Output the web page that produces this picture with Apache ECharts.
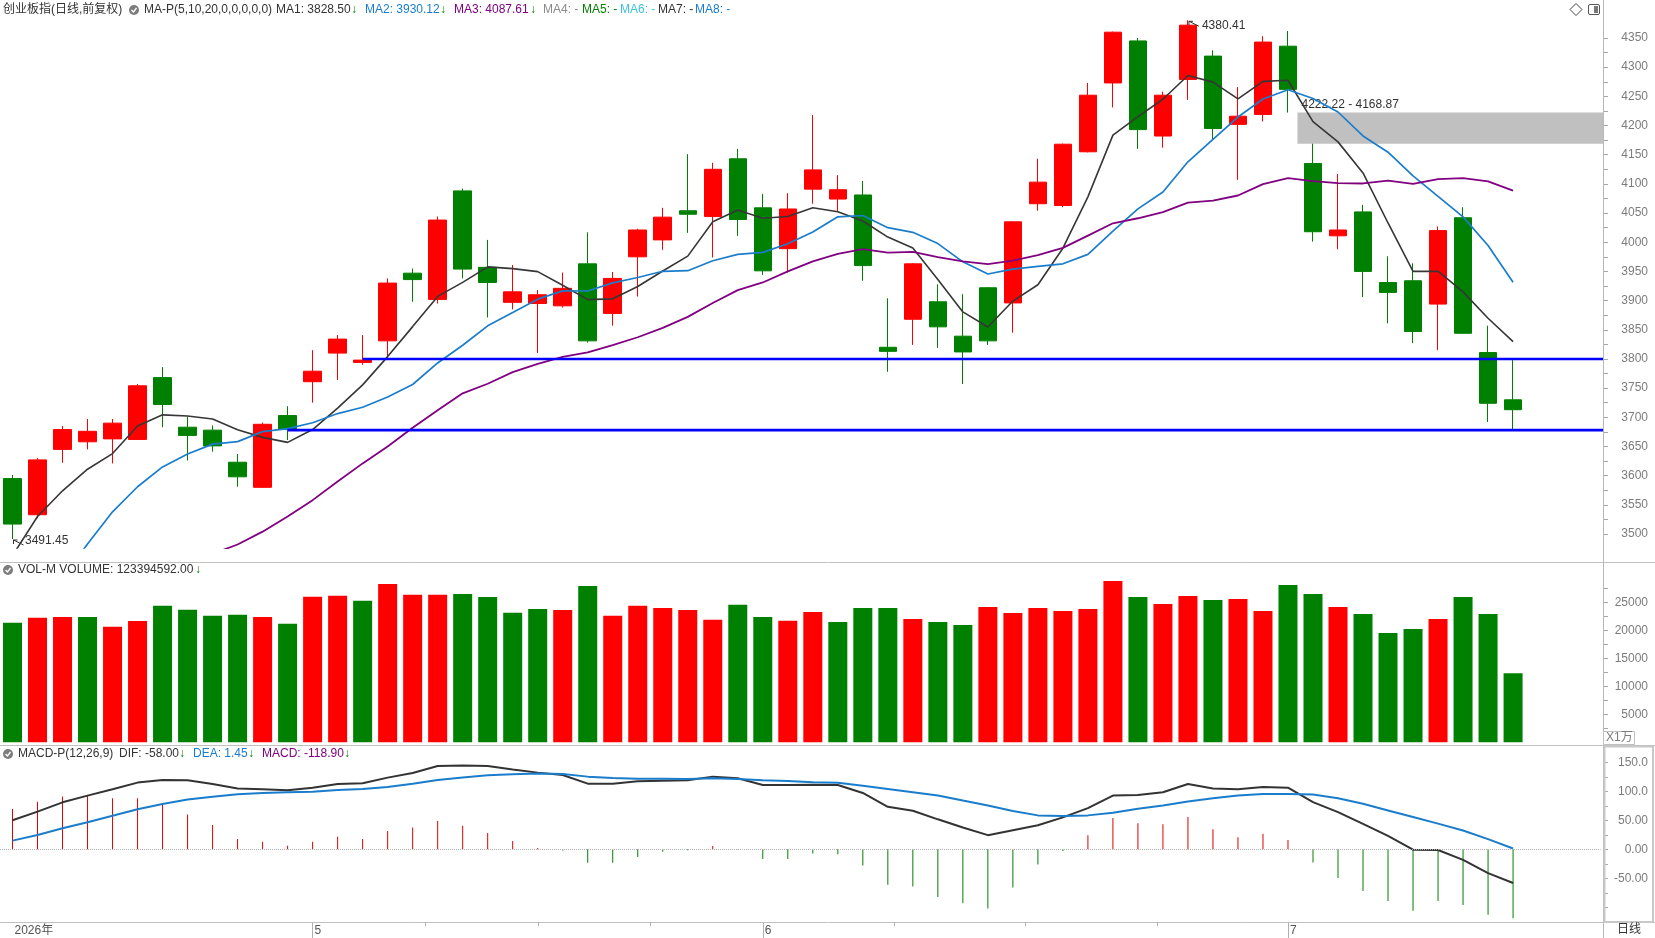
<!DOCTYPE html>
<html><head><meta charset="utf-8">
<script src="https://cdn.jsdelivr.net/npm/echarts@6/dist/echarts.min.js"></script>
<style>html,body{margin:0;padding:0;background:#fff;overflow:hidden}#c{width:1655px;height:938px}</style>
</head><body><div id="c"></div>
<script>
// ---------------- data ----------------
const dates = [
 '2026-04-15','2026-04-16','2026-04-17','2026-04-20','2026-04-21','2026-04-22','2026-04-23','2026-04-24','2026-04-27','2026-04-28','2026-04-29','2026-04-30',
 '2026-05-06','2026-05-07','2026-05-08','2026-05-11','2026-05-12','2026-05-13','2026-05-14','2026-05-15','2026-05-18','2026-05-19','2026-05-20','2026-05-21','2026-05-22','2026-05-25','2026-05-26','2026-05-27','2026-05-28','2026-05-29',
 '2026-06-01','2026-06-02','2026-06-03','2026-06-04','2026-06-05','2026-06-08','2026-06-09','2026-06-10','2026-06-11','2026-06-12','2026-06-15','2026-06-16','2026-06-17','2026-06-18','2026-06-22','2026-06-23','2026-06-24','2026-06-25','2026-06-26','2026-06-29','2026-06-30',
 '2026-07-01','2026-07-02','2026-07-03','2026-07-06','2026-07-07','2026-07-08','2026-07-09','2026-07-10','2026-07-13','2026-07-14'];
const opens = [3595,3533,3645,3658,3663,3662,3768,3683,3678,3623,3580,3703,3761,3810,3794,3831,3947,3902,4088,3957,3897,3895,3891,3963,3878,3975,4004,4054,4044,4143,
 4059,3989,4091,4074,4081,3820,3868,3898,3839,3922,3896,4066,4063,4155,4273,4345,4182,4279,4319,4202,4219,4336,4135,4011,4052,3931,3934,3894,4042,3811,3730];
const closes = [3517,3627,3679,3676,3690,3754,3722,3669,3651,3598,3688,3679,3779,3834,3798,3930,3936,4038,3954,3931,3915,3910,3921,3831,3938,4021,4043,4048,4125,4039,
 3951,4057,4124,4090,3960,3813,3963,3855,3812,3831,4035,4103,4168,4252,4360,4193,4252,4372,4195,4216,4343,4262,4018,4021,3950,3914,3847,4020,3844,3724,3713];
const lows = [3491.45,3527,3622,3645,3621,3661,3683,3626,3641,3581,3579,3661,3725,3764,3790,3804,3898,3895,3938,3871,3885,3810,3888,3828,3857,3907,3987,4016,3974,4011,
 3944,3948,4066,4052,3934,3778,3824,3819,3757,3824,3845,4054,4060,4154,4231,4160,4162,4244,4176,4107,4207,4222.22,4001,3988,3906,3861,3827,3815,3843,3692,3678];
const highs = [3601,3630,3685,3697,3697,3757,3786,3701,3686,3637,3691,3719,3815,3841,3841,3938,3955,4044,4092,4004,3961,3918,3948,4017,3949,4023,4059,4151,4136,4160,
 4083,4084,4218,4115,4105,3904,3964,3928,3911,3923,4036,4143,4169,4273,4361,4350,4258,4380.41,4329,4266,4353,4362,4168.87,4117,4064,3976,3964,4027,4060,3857,3798];
// volume in units of 1万
const volumes = [21360,22250,22380,22380,20650,21660,24400,23690,22610,22790,22380,21190,26010,26190,25290,28270,26360,26360,26490,25950,23150,23810,23630,27920,22610,24400,23990,23630,21900,24580,
 22380,21720,23290,21490,23990,23990,22020,21490,20950,24170,23090,23990,23450,23810,28810,25950,24700,26130,25420,25590,23450,28090,26490,24170,22910,19520,20240,22020,25950,22910,12339.46];
const dif = [50,65,81,92.5,103.5,115,119.6,119,112.6,105,103.4,101.7,106.3,112.6,113.8,123.6,131.6,143.7,144.3,143.7,137.4,132.2,128.2,113.2,113.2,117.2,118.4,119,125.3,122.4,
 111,111,111.4,110.8,97.2,73.3,66.5,51.7,37.5,24.4,33,41.5,55,71,92.6,93.8,98.3,112.5,105,103.4,107.4,106.3,81.3,64.2,43.7,23.3,-0.6,-1.1,-18.2,-41,-58];
const dea = [15,24.7,36.2,46.5,58,69,78,86,90.8,94.8,97.1,98.3,99.4,102.3,104,107.5,113.2,119.5,124,127.6,129.3,130.5,129.9,125.3,123,121.8,121.8,121.3,122.4,121.3,
 119,117.8,115.8,114.8,109.7,104,98.3,92.6,84,75.6,65.9,58.5,57.4,58.5,63,70,75.6,82.4,88,92.6,95.5,95.5,94.3,88,78.4,67,55.7,44.3,32.4,17.6,1.45];
const macd = [69.5,82,91,92.5,88,88,78.7,60,42,17.8,13.2,6.3,13.2,21.8,17.8,31.6,37.4,48.8,40.8,28.2,14.4,2.3,-2,-23,-23,-13.2,-4,-1.7,5.7,0.5,
 -16.7,-16.7,-7,-8.5,-27.8,-61,-64,-82,-93,-102,-66,-26,-3,24.4,54,45,43.2,55.7,34.7,21,26.7,16,-22.7,-49.4,-72,-89.2,-106,-89.2,-96,-113,-118.9];
// moving-average values of the first days (their history lies before the visible window)
const ma5Lead = [3463,3530,3574,3611];
const ma10Lead = [3315,3370,3425,3483,3538,3581,3615,3637,3654];
const ma20Lead = [3345,3360,3375,3390,3405,3420,3435,3452,3466,3482,3504,3530,3558,3590,3621,3650,3682,3712,3741];
// drawn horizontal lines: [start index, price]
const supportLines = [[14,3800],[11,3678]];
// tick labels
const priceTicks = [3500,3550,3600,3650,3700,3750,3800,3850,3900,3950,4000,4050,4100,4150,4200,4250,4300,4350];
const volTicks = [5000,10000,15000,20000,25000];
const macdTicks = [150,100,50,0,-50];
const macdTickLabels = ['150.0','100.0','50.00','0.00','-50.00'];

// ---------------- build ----------------
const RED = '#ff0000', GREEN = '#008000';
const FONT = 'Liberation Sans, Noto Sans CJK SC, sans-serif';
const cats = dates.concat(['', '', '']);
const candleData = opens.map((o, i) => [o, closes[i], lows[i], highs[i]]);
function calcMA(n, lead) {
  return closes.map((c, i) => {
    if (i < lead.length) return lead[i];
    let s = 0; for (let k = i - n + 1; k <= i; k++) s += closes[k];
    return +(s / n).toFixed(2);
  });
}
const ma5 = calcMA(5, ma5Lead), ma10 = calcMA(10, ma10Lead), ma20 = calcMA(20, ma20Lead);
const volData = volumes.map((v, i) => {
  const up = i === 0 ? closes[0] >= opens[0] : closes[i] >= closes[i - 1];
  return { value: v, itemStyle: { color: up ? RED : GREEN } };
});
const macdData = macd.map(v => ({ value: v, itemStyle: { color: v >= 0 ? '#e00000' : GREEN } }));
const monthStarts = dates.map((d, i) => (i === 0 || d.slice(5, 7) !== dates[i - 1].slice(5, 7)) ? i : -1).filter(i => i >= 0);
function halfSteps(arr, step) { const out = []; const lo = Math.min(...arr), hi = Math.max(...arr); for (let v = lo; v <= hi + 1e-9; v += step) out.push(+v.toFixed(4)); return out; }
let hiIdx = 0, loIdx = 0;
highs.forEach((h, i) => { if (h > highs[hiIdx]) hiIdx = i; });
lows.forEach((l, i) => { if (l < lows[loIdx]) loIdx = i; });
const gapIdx = 51;
const gapData = [[gapIdx, lows[gapIdx], highs[gapIdx + 1]]];

const GL = -2, GW = 1602.6, AXOFF = 2.4;
const grids = [
  { left: GL, width: GW, top: 10, height: 538 },
  { left: GL, width: GW, top: 562, height: 180.3 },
  { left: GL, width: GW, top: 746, height: 176 }
];
const labelStyle = { color: '#7c7c7c', fontSize: 12, fontFamily: FONT, align: 'right', margin: 45 };
const tickStyle = { show: true, length: 5, lineStyle: { color: '#a8a8a8', width: 1 } };
const plain = (v) => String(+v);

const option = {
  animation: false,
  backgroundColor: '#ffffff',
  grid: grids,
  xAxis: [
    { type: 'category', gridIndex: 0, data: cats, show: false },
    { type: 'category', gridIndex: 1, data: cats, show: false },
    { type: 'category', gridIndex: 2, data: cats, position: 'bottom',
      axisLine: { show: false, onZero: false },
      axisTick: { show: true, alignWithLabel: true, length: 16, interval: (i) => i > 0 && monthStarts.includes(i), lineStyle: { color: '#b0b0b0' } },
      axisLabel: { show: true, interval: (i) => monthStarts.includes(i), align: 'left', margin: 3, padding: [0, 0, 0, 2],
        color: '#555', fontSize: 12, fontFamily: FONT,
        formatter: (v, i) => i === 0 ? v.slice(0, 4) + '年' : String(+v.slice(5, 7)) },
      splitLine: { show: false } }
  ],
  yAxis: [
    { type: 'value', gridIndex: 0, position: 'right', offset: AXOFF, min: 3476, max: 4398, splitLine: { show: false },
      axisLine: { show: false }, axisTick: Object.assign({ customValues: halfSteps(priceTicks, 25) }, tickStyle),
      axisLabel: Object.assign({ customValues: priceTicks, formatter: plain }, labelStyle) },
    { type: 'value', gridIndex: 1, position: 'right', offset: AXOFF, min: 0, max: 32200, splitLine: { show: false },
      axisLine: { show: false }, axisTick: Object.assign({ customValues: halfSteps([2500, 27500], 2500) }, tickStyle),
      axisLabel: Object.assign({ customValues: volTicks, formatter: plain }, labelStyle) },
    { type: 'value', gridIndex: 2, position: 'right', offset: AXOFF, min: -125.3, max: 178.1, splitLine: { show: false },
      axisLine: { show: false }, axisTick: Object.assign({ customValues: halfSteps([-100, 150], 25) }, tickStyle),
      axisLabel: Object.assign({ customValues: macdTicks, formatter: (v) => { const k = macdTicks.indexOf(+v); return k >= 0 ? macdTickLabels[k] : ''; } }, labelStyle) }
  ],
  series: [
    { type: 'custom', name: 'gap', xAxisIndex: 0, yAxisIndex: 0, z: 1, clip: false, data: gapData,
      renderItem: (params, api) => {
        const top = api.value(1), bot = api.value(2);
        const p1 = api.coord([api.value(0), top]), p2 = api.coord([api.value(0), bot]);
        const x0 = p1[0] + 9.5, x1 = params.coordSys.x + params.coordSys.width + AXOFF;
        return { type: 'group', children: [
          { type: 'rect', shape: { x: x0, y: p1[1], width: x1 - x0, height: p2[1] - p1[1] }, style: { fill: '#c0c0c0' } },
          { type: 'text', style: { text: top.toFixed(2) + ' - ' + bot.toFixed(2), x: x0 + 4, y: p1[1] - 8, verticalAlign: 'middle', fill: '#333', font: '12px ' + FONT } }
        ] };
      } },
    { type: 'candlestick', name: 'K', xAxisIndex: 0, yAxisIndex: 0, data: candleData, barWidth: 18, z: 2,
      itemStyle: { color: RED, color0: GREEN, borderColor: RED, borderColor0: GREEN, borderWidth: 1 } },
    { type: 'line', name: 'MA1', xAxisIndex: 0, yAxisIndex: 0, data: ma5, showSymbol: false, z: 3, lineStyle: { color: '#363636', width: 1.6 } },
    { type: 'line', name: 'MA2', xAxisIndex: 0, yAxisIndex: 0, data: ma10, showSymbol: false, z: 3, lineStyle: { color: '#1a7dcc', width: 1.7 } },
    { type: 'line', name: 'MA3', xAxisIndex: 0, yAxisIndex: 0, data: ma20, showSymbol: false, z: 3, lineStyle: { color: '#800080', width: 1.8 } },
    { type: 'custom', name: 'lines', xAxisIndex: 0, yAxisIndex: 0, z: 4, clip: false, data: supportLines,
      renderItem: (params, api) => {
        const p = api.coord([api.value(0), api.value(1)]);
        const x1 = params.coordSys.x + params.coordSys.width + AXOFF;
        return { type: 'line', shape: { x1: p[0], y1: p[1], x2: x1, y2: p[1] }, style: { stroke: '#0000ff', lineWidth: 2.6 } };
      } },
    { type: 'custom', name: 'extremes', xAxisIndex: 0, yAxisIndex: 0, z: 5, clip: false,
      data: [[hiIdx, highs[hiIdx], 1], [loIdx, lows[loIdx], 0]],
      renderItem: (params, api) => {
        const p = api.coord([api.value(0), api.value(1)]);
        const isHi = api.value(2) === 1;
        const x = p[0], y = p[1];
        const ty = isHi ? y + 5.5 : y + 1.7, tx = isHi ? x + 14 : x + 12.5;
        return { type: 'group', children: [
          { type: 'polyline', shape: { points: [[x + 5, y + 1], [x + 1, y + 1], [x + 1, y + 5]] }, style: { stroke: '#333', lineWidth: 1, fill: null } },
          { type: 'line', shape: { x1: x + 1, y1: y + 1, x2: x + 11, y2: y + 6 }, style: { stroke: '#333', lineWidth: 1 } },
          { type: 'text', style: { text: api.value(1).toFixed(2), x: tx, y: ty, verticalAlign: 'middle', fill: '#333', font: '12px ' + FONT } }
        ] };
      } },
    { type: 'bar', name: 'VOL', xAxisIndex: 1, yAxisIndex: 1, data: volData, barWidth: 19 },
    { type: 'line', name: 'DIF', xAxisIndex: 2, yAxisIndex: 2, data: dif, showSymbol: false, z: 3, lineStyle: { color: '#333333', width: 2 } },
    { type: 'line', name: 'DEA', xAxisIndex: 2, yAxisIndex: 2, data: dea, showSymbol: false, z: 3, lineStyle: { color: '#1a7dcc', width: 2 } },
    { type: 'bar', name: 'MACD', xAxisIndex: 2, yAxisIndex: 2, data: macdData, barWidth: 1, z: 2,
      markLine: { silent: true, symbol: ['none', 'none'], label: { show: false }, lineStyle: { color: '#b0b0b0', type: 'dotted', width: 1 }, data: [{ yAxis: 0 }] } }
  ]
};

const chart = echarts.init(document.getElementById('c'));
chart.setOption(option);

// ---------------- decorations ----------------
function txt(text, x, y, color, size) {
  return { type: 'text', z: 100, style: { text: text, x: x, y: y, verticalAlign: 'middle', fill: color, font: (size || 12) + 'px ' + FONT } };
}
function icon(cx, cy) {
  return { type: 'group', z: 100, children: [
    { type: 'circle', shape: { cx: cx, cy: cy, r: 5 }, style: { fill: '#7d7d7d' } },
    { type: 'polyline', shape: { points: [[cx - 2.5, cy], [cx - 0.5, cy + 2], [cx + 2.5, cy - 2]] }, style: { stroke: '#fff', lineWidth: 1.3, fill: null } }
  ] };
}
function hline(y, x0, x1, color) { return { type: 'line', z: 90, shape: { x1: x0, y1: y, x2: x1, y2: y }, style: { stroke: color || '#c0c0c0', lineWidth: 1 } }; }

const g = [];
g.push(hline(562.5, 0, 1655));
g.push(hline(745.5, 0, 1655));
g.push(hline(922.5, 0, 1655));
g.push({ type: 'line', z: 90, shape: { x1: 1603.5, y1: 0, x2: 1603.5, y2: 938 }, style: { stroke: '#b8b8b8', lineWidth: 1 } });
g.push({ type: 'rect', z: 91, shape: { x: 1604.5, y: 746.5, width: 48.5, height: 175.5 }, style: { stroke: '#c8c8c8', lineWidth: 2, fill: null } });
// quarter ticks between month starts
for (let k = 1; k < monthStarts.length - 1; k++) {
  const a = chart.convertToPixel({ xAxisIndex: 2 }, monthStarts[k]);
  const b = chart.convertToPixel({ xAxisIndex: 2 }, monthStarts[k + 1]);
  for (let q = 1; q < 4; q++) {
    const x = Math.round(a + (b - a) * q / 4) + 0.5;
    g.push({ type: 'line', z: 90, shape: { x1: x, y1: 922, x2: x, y2: 926 }, style: { stroke: '#b0b0b0', lineWidth: 1 } });
  }
}
// header row
g.push(txt('创业板指(日线,前复权)', 3, 10, '#333'));
g.push(icon(134, 10));
g.push(txt('MA-P(5,10,20,0,0,0,0,0)', 144, 10, '#333'));
g.push(txt('MA1: 3828.50', 276, 10, '#333')); g.push(txt('↓', 351, 10, GREEN));
g.push(txt('MA2: 3930.12', 365, 10, '#1a7dcc')); g.push(txt('↓', 440, 10, GREEN));
g.push(txt('MA3: 4087.61', 454, 10, '#800080')); g.push(txt('↓', 530, 10, GREEN));
g.push(txt('MA4: -', 543, 10, '#8a8a8a'));
g.push(txt('MA5: -', 582, 10, '#008000'));
g.push(txt('MA6: -', 620, 10, '#3cc4d8'));
g.push(txt('MA7: -', 658, 10, '#333'));
g.push(txt('MA8: -', 695, 10, '#1a7dcc'));
// top-right icons
g.push({ type: 'polygon', z: 100, shape: { points: [[1576, 3.5], [1582, 9.5], [1576, 15.5], [1570, 9.5]] }, style: { stroke: '#444', lineWidth: 1, fill: '#fff' } });
g.push({ type: 'rect', z: 100, shape: { x: 1588.5, y: 4.5, width: 11, height: 10, r: 1.5 }, style: { stroke: '#555', lineWidth: 1, fill: '#fff' } });
g.push({ type: 'rect', z: 101, shape: { x: 1594, y: 6, width: 4, height: 7 }, style: { fill: '#777' } });
// volume header
g.push(icon(8, 570));
g.push(txt('VOL-M VOLUME: 123394592.00', 18, 570, '#333')); g.push(txt('↓', 195, 570, GREEN));
// macd header
g.push(icon(8, 754));
g.push(txt('MACD-P(12,26,9)', 18, 754, '#333'));
g.push(txt('DIF: -58.00', 119, 754, '#333')); g.push(txt('↓', 179, 754, GREEN));
g.push(txt('DEA: 1.45', 193, 754, '#1a7dcc')); g.push(txt('↓', 248, 754, GREEN));
g.push(txt('MACD: -118.90', 262, 754, '#800080')); g.push(txt('↓', 344, 754, GREEN));
// unit box & period label
g.push({ type: 'rect', z: 100, shape: { x: 1603.5, y: 731.5, width: 31, height: 13 }, style: { stroke: '#c0c0c0', lineWidth: 1, fill: '#fff' } });
g.push(txt('X1万', 1606, 738, '#7c7c7c'));
g.push(txt('日线', 1617, 930, '#333'));
chart.setOption({ graphic: g });
</script>
</body></html>
